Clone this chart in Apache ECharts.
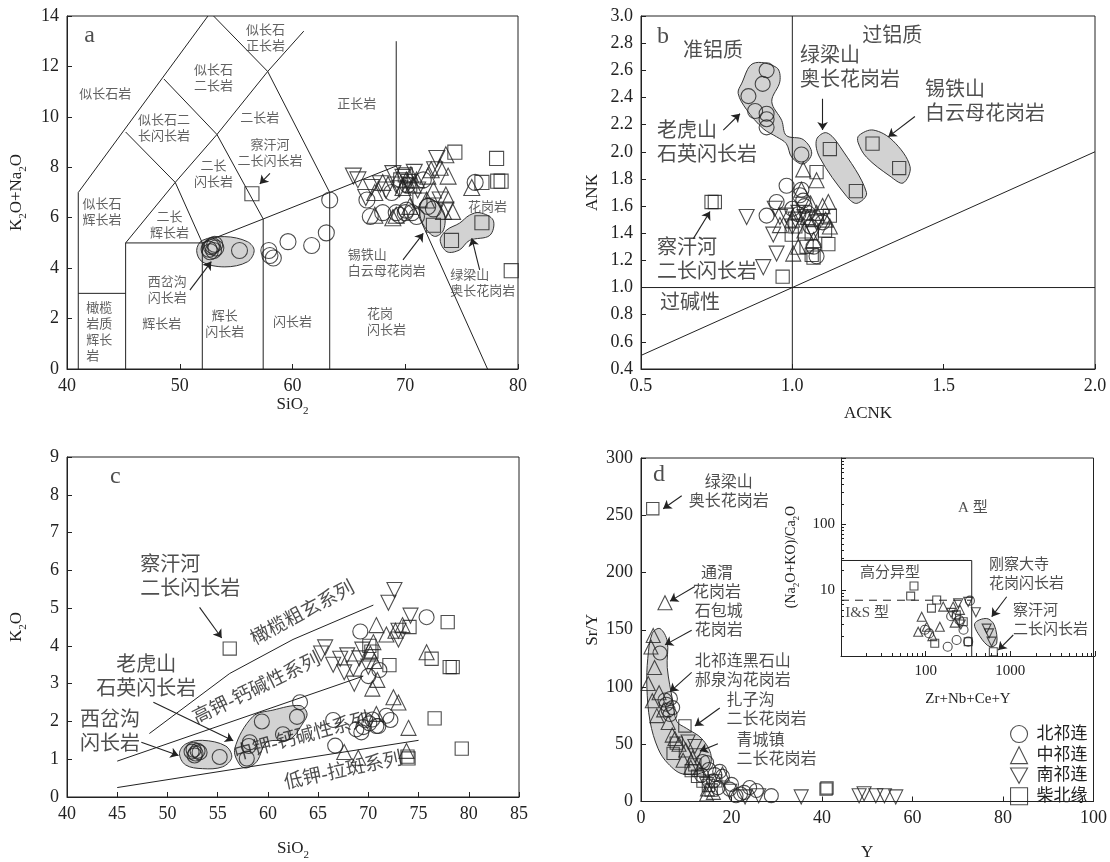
<!DOCTYPE html>
<html><head><meta charset="utf-8">
<script src="https://cdn.jsdelivr.net/npm/echarts@6/dist/echarts.min.js"></script>
<style>html,body{margin:0;padding:0;background:#fff}#c{width:1110px;height:862px}</style>
</head><body><div id="c"></div>
<script>
// ---------- Panel a: SiO2 vs K2O+Na2O ----------
const aNQ = [[52.6,4.75],[52.8,4.85],[53.0,4.7],[52.9,4.9],[53.2,4.8],[52.7,4.65],[53.1,4.95],[55.3,4.7],[57.9,4.7],[58.0,4.5],[58.3,4.4],[59.6,5.05],[61.7,4.9],[63.0,5.4],[63.3,6.7],[66.6,6.7],[66.9,6.05],[68.0,6.2],[69.2,6.2],[69.5,6.1],[70.0,6.2],[70.1,6.3],[70.6,6.2],[71.0,6.05],[72.0,6.45],[72.5,6.35],[71.6,7.5],[76.2,7.4],[68.8,7.0],[70.2,7.3]];
const aZQ = [[73.6,8.5],[73.1,8.0],[73.8,7.65],[72.0,7.65],[72.5,7.1],[73.6,6.9],[74.2,6.25],[73.4,6.25],[75.9,7.2],[68.0,7.4],[67.3,6.1],[69.2,6.1],[71.0,7.5],[70.4,6.45],[70.1,7.5],[70.7,7.3],[72.3,7.9],[67.3,7.0],[68.9,6.0],[71.9,6.7],[69.8,7.2],[70.5,7.7]];
const aNAN = [[65.4,7.65],[65.8,7.5],[67.8,7.35],[68.3,7.1],[69.5,7.15],[71.1,7.1],[72.8,8.35],[72.6,7.9],[73.1,6.7],[73.6,6.3],[68.9,7.75],[69.8,7.6],[70.3,7.4],[67.0,7.2],[66.5,6.8],[70.8,7.8],[69.2,7.3]];
const aCBY = [[56.4,6.95],[74.4,8.6],[78.1,8.35],[76.8,7.4],[78.2,7.45],[78.5,7.45],[79.4,3.9],[72.5,5.7],[74.1,5.1],[76.8,5.8],[70.0,7.7],[69.6,7.5],[70.4,7.3],[71.3,6.7]];
const aBoundaries = [
  [[41,0],[41,7],[52.5,14]],
  [[41,3],[45.2,3]],
  [[45.2,0],[45.2,5],[52,5]],
  [[52,0],[52,5],[57.4,5.95],[63.3,7.0],[69.2,8.05]],
  [[57.4,0],[57.4,5.95]],
  [[63.3,0],[63.3,7.0]],
  [[45.2,5],[49.6,7.4],[52,5]],
  [[45.2,9.4],[49.6,7.4]],
  [[48.6,11.5],[53.3,9.3],[57.4,5.95]],
  [[49.6,7.4],[53.3,9.3],[57.8,11.8],[61,13.4]],
  [[53,14],[57.8,11.8],[63.3,7.0]],
  [[69.2,8.05],[69.2,13.0]],
  [[69.2,8.05],[77.3,0]]
];
const aHulls = [
  [[51.5,4.7],[52,5.1],[54,5.25],[56,5.05],[56.6,4.7],[56,4.25],[54,4.05],[52,4.25]],
  [[71.3,6.57],[72.2,6.77],[73.4,6.24],[73.4,5.52],[72.6,5.26],[71.7,5.65],[71.3,6.1]],
  [[73.1,5.12],[73.7,5.52],[74.8,5.78],[75.7,6.1],[76.6,6.2],[77.8,5.9],[77.5,5.3],[75.7,5.1],[74.8,4.72],[73.7,4.65]]
];
const aArrows = [[[58.0,7.76],[57.1,7.34]],[[50.9,3.13],[52.8,4.26]],[[69.8,4.33],[71.6,5.38]],[[76.6,3.93],[75.9,5.19]]];
const aTexts = [
  ['似长石岩',43.4,10.9],['似长石\n正长岩',57.6,13.1],['似长石\n二长岩',53.0,11.5],['似长石二\n长闪长岩',48.6,9.55],
  ['二长岩',57.1,9.95],['察汗河\n二长闪长岩',58.0,8.55],['二长\n闪长岩',53.0,7.7],['似长石\n辉长岩',43.1,6.2],
  ['二长\n辉长岩',49.1,5.7],['西岔沟\n闪长岩',48.9,3.1],['橄榄\n岩质\n辉长\n岩',41.7,1.45,'left'],['辉长岩',48.4,1.75],
  ['辉长\n闪长岩',54.0,1.75],['闪长岩',60.0,1.85],['正长岩',65.7,10.5],['花岗岩',77.3,6.4],
  ['锡铁山\n白云母花岗岩',64.9,4.2,'left'],['绿梁山\n奥长花岗岩',74.0,3.4,'left'],['花岗\n闪长岩',66.6,1.86,'left']
];

// ---------- Panel b: ACNK vs ANK ----------
const bNQ = [[0.915,2.60],[0.902,2.50],[0.855,2.41],[0.877,2.30],[0.915,2.28],[0.915,2.24],[0.915,2.18],[1.03,1.98],[0.981,1.75],[1.025,1.68],[1.03,1.72],[1.036,1.64],[0.948,1.63],[0.915,1.53],[1.07,1.30],[1.08,1.23],[1.02,1.54],[1.10,1.48],[1.04,1.60],[1.05,1.55],[1.0,1.58],[1.06,1.45]];
const bZQ = [[1.036,1.87],[1.08,1.79],[1.03,1.72],[1.119,1.63],[1.10,1.60],[1.124,1.45],[0.959,1.46],[1.003,1.25],[1.07,1.35],[1.02,1.30],[1.05,1.52],[1.08,1.55],[1.0,1.50],[1.11,1.50],[1.06,1.62],[1.04,1.42]];
const bNAN = [[0.849,1.52],[0.942,1.58],[0.959,1.52],[0.937,1.39],[0.948,1.25],[0.904,1.15],[1.01,1.50],[1.08,1.48],[1.07,1.40],[1.04,1.52],[0.98,1.53],[1.0,1.45],[1.05,1.50],[1.1,1.52],[1.02,1.55]];
const bCBY = [[0.744,1.63],[0.733,1.63],[1.08,1.85],[1.124,1.53],[1.064,1.40],[0.998,1.39],[1.119,1.32],[1.064,1.24],[1.07,1.22],[0.968,1.08],[1.108,1.42],[1.047,1.30],[1.124,2.02],[1.21,1.71],[1.265,2.06],[1.353,1.88],[1.01,1.45]];
const bBoundaries = [[[1,0.4],[1,3]],[[0.5,1],[2,1]],[[0.5,0.5],[2,2]]];
const bHulls = [
  [[0.87,2.65],[0.948,2.62],[0.959,2.52],[0.932,2.37],[0.965,2.23],[0.98,2.12],[1.036,2.09],[1.064,1.99],[1.036,1.91],[0.998,1.96],[0.98,2.06],[0.948,2.11],[0.904,2.17],[0.849,2.31],[0.821,2.43],[0.832,2.50]],
  [[1.08,2.09],[1.113,2.14],[1.157,2.04],[1.245,1.70],[1.213,1.62],[1.18,1.67],[1.09,1.96]],
  [[1.22,2.12],[1.267,2.16],[1.333,2.08],[1.389,1.89],[1.366,1.77],[1.323,1.82],[1.245,1.96],[1.217,2.07]]
];
const bArrows = [[[1.10,2.39],[1.10,2.16]],[[1.405,2.26],[1.317,2.11]],[[0.772,2.16],[0.827,2.28]],[[0.673,1.36],[0.728,1.56]]];
const bTexts = [['准铝质',0.738,2.74],['过铝质',1.33,2.85],['绿梁山\n奥长花岗岩',1.025,2.61,'left'],['锡铁山\n白云母花岗岩',1.438,2.36,'left'],
  ['老虎山\n石英闪长岩',0.553,2.06,'left'],['察汗河\n二长闪长岩',0.553,1.195,'left'],['过碱性',0.563,0.88,'left']];

// ---------- Panel c: SiO2 vs K2O ----------
const cNQ = [[52.4,1.2],[52.6,1.25],[52.8,1.15],[53.0,1.22],[52.7,1.1],[53.2,1.18],[55.2,1.06],[58.2,1.45],[58.1,1.35],[57.9,1.02],[59.4,2.0],[61.5,1.66],[62.9,2.12],[63.2,2.51],[66.5,2.04],[66.7,1.36],[69.2,4.38],[68.8,1.79],[69.3,1.71],[69.7,2.03],[70.1,1.95],[70.8,1.88],[71.0,1.88],[71.8,2.15],[72.2,2.04],[75.8,4.76],[71.1,3.36],[70.0,3.2],[69.5,1.85],[70.4,2.05]];
const cZQ = [[70.8,4.55],[71.8,4.3],[70.5,4.1],[70.2,3.8],[70.6,3.6],[72.5,2.64],[73.0,2.5],[70.8,2.2],[67.6,1.19],[69.0,1.04],[74.0,1.83],[73.8,1.22],[75.8,3.83],[70.4,2.87],[73.4,4.55],[72.7,4.4],[70.9,3.1]];
const cNAN = [[65.7,3.96],[65.3,3.8],[67.2,3.66],[66.5,3.5],[67.6,3.3],[68.6,3.0],[67.9,3.75],[72.0,5.14],[72.6,5.48],[73.0,4.4],[73.0,4.17],[74.2,4.8],[69.1,3.67],[70.0,3.45],[68.5,3.4],[69.4,3.9]];
const cCBY = [[56.2,3.93],[74.1,4.5],[77.9,4.63],[76.3,3.66],[78.1,3.44],[78.4,3.44],[72.1,3.49],[76.6,2.08],[79.3,1.28],[74.0,1.02],[73.9,1.07],[70.3,3.85],[70.1,4.0]];
const cBoundaries = [[[48.2,1.68],[56.2,3.27],[62.5,4.17],[70.5,5.08]],[[45,0.95],[69.5,3.2]],[[45,0.25],[75,1.5]]];
const cHulls = [
  [[51.2,1.15],[51.8,1.4],[53.5,1.5],[55.8,1.35],[56.4,1.05],[55.5,0.8],[53.5,0.75],[51.8,0.85]],
  [[57.2,0.85],[56.7,1.28],[58.5,2.13],[60.5,2.30],[63.2,2.42],[63.9,2.21],[63.5,1.96],[62.2,1.53],[59.9,1.45],[58.9,0.94],[57.9,0.77]]
];
const cArrows = [[[53.2,5.02],[55.4,4.21]],[[48.6,2.51],[56.55,1.49]],[[47.4,1.45],[51.1,1.10]]];
const cTexts = [['察汗河\n二长闪长岩',47.3,5.8,'left'],['老虎山\n石英闪长岩',47.9,3.15],['西岔沟\n闪长岩',41.3,1.7,'left']];
const cSeriesTexts = [['橄榄粗玄系列',63.5,4.85,28],['高钾-钙碱性系列',58.9,2.85,26],['中钾-钙碱性系列',63.4,1.58,15],['低钾-拉斑系列',67.5,0.68,12]];

// ---------- Panel d: Y vs Sr/Y ----------
const dNQ = [[4.2,129.7],[5.3,88.6],[6.0,80],[6.4,76],[5.6,85],[7.0,82],[6.5,90],[17.4,26.3],[16.3,23.5],[16.0,18],[14.5,34],[19.6,10.8],[22,6.6],[24.0,12.2],[25.5,9.6],[28.8,5.1],[13.4,23],[22.8,8],[13.6,35],[18,22],[15,28],[20,15],[17,12],[21,5]];
const dZQ = [[5.3,173.6],[2.7,145],[2.2,135],[3.0,117],[1.6,103],[2.5,88],[5.0,80],[6,69],[6.9,58],[8.4,50],[9.9,45],[11.4,38],[12.9,28],[14.7,11],[9.3,36],[18,24],[4,95],[3.5,75],[7.5,55],[11,30],[16,8],[14.5,6.5]];
const dNAN = [[10.4,52],[11.9,48],[14.5,15],[19.6,9],[35.4,4],[48.2,5],[49.3,6.8],[51.9,5],[53.8,5],[56.3,4],[12,40],[26,5],[23,4]];
const dCBY = [[2.6,255.7],[9.7,66],[7.1,42],[7.8,51],[13.7,17.8],[14.9,14],[40.9,10.8],[41.1,11.8],[11.9,32],[11.1,27],[16.5,18],[12.5,22],[15.5,10]];
const dHulls = [[[4.2,151],[2.5,147],[1.5,125],[1.3,100],[2.0,70],[3.8,46],[6,33],[9.3,24],[14.5,27],[15.5,40],[13.4,55],[10,64],[7.9,70],[7.0,88],[5.8,117],[5.8,140]]];
const dArrows = [[[9.0,267],[4.9,255.7]],[[11.9,187.8],[6.4,175]],[[11.2,149.5],[5.3,136.8]],[[11.2,112.7],[6.4,95.8]],[[17.4,81.6],[11.9,66]],[[17.0,50.4],[13.0,44]]];
const dTexts = [['绿梁山\n奥长花岗岩',19.4,270],['通渭\n花岗岩',16.8,191],['石包城\n花岗岩',11.9,157,'left'],['北祁连黑石山\n郝泉沟花岗岩',11.9,114,'left'],
  ['扎子沟\n二长花岗岩',18.9,80,'left'],['青城镇\n二长花岗岩',21.1,45,'left']];

// ---------- Inset: Zr+Nb+Ce+Y vs (Na2O+KO)/Ca2O ----------
const iNQ = [[333,6.9],[182,1.38],[232,1.75],[98,2.5],[318,1.65],[110,2.2],[250,3.5],[200,4.0],[280,2.5]];
const iZQ = [[161,5.6],[89.8,3.94],[81.6,2.33],[147,2.78],[103,2.78],[211,5.6],[254,5.0],[120,2.0],[220,3.2]];
const iNAN = [[242,6.3],[392,4.6],[600,1.65],[525,2.6],[318,6.6],[560,2.2],[200,4.5],[260,3.0]];
const iCBY = [[72.8,11.5],[66.5,8.1],[135,7.05],[117,5.3],[318,1.65],[630,1.16],[128,1.56],[278,3.3],[230,4.2]];
const iBoundaries = [[[10,28],[350,28],[350,1]]];
const iDashed = [[[10,7],[350,7]]];
const iHulls = [[[380,3.1],[525,3.7],[645,2.95],[690,1.56],[575,1.38],[440,1.96]]];
const iArrows = [[[906,7.9],[603,3.94]],[[1083,2.08],[720,1.23]]];
const iTexts = [['A 型',361,174],['高分异型',37.9,18.1],['I&S 型',20.3,4.5],['刚察大寺\n花岗闪长岩',558,16.9,'left'],['察汗河\n二长闪长岩',1072,3.5,'left']];

const panelLetters = [['a',0,42.0,13.2],['b',1,0.573,2.85],['c',2,44.8,8.47],['d',3,4.0,285]];
const groups = ['北祁连','中祁连','南祁连','柴北缘'];

// ---------- build ----------
const FF = '"Liberation Serif","Times New Roman","Noto Sans CJK SC",serif';
const INK = '#222';
const CLEAR = 'rgba(255,255,255,0)';
const INV_TRI = 'path://M0,0 L20,0 L10,18 Z';
const grids = [
  {left:67, top:16, width:451, height:353},
  {left:641, top:16, width:454, height:353},
  {left:67, top:457, width:452, height:353},
  {left:641, top:458, width:454, height:353},
  {left:841, top:458, width:254, height:198}
].map((g,i)=>Object.assign(g,{show:i<4, borderColor:INK, borderWidth:1, containLabel:false}));

const rich = {t:{fontFamily:FF,fontSize:17,color:INK,lineHeight:24,verticalAlign:'middle'},
              s:{fontFamily:FF,fontSize:11,color:INK,lineHeight:24,verticalAlign:'bottom'}};
function va(gi,min,max,interval,fmt,name,gap){
  return {gridIndex:gi,type:'value',min,max,interval,
    axisLine:{show:true,lineStyle:{color:INK,width:1}},
    axisTick:{show:true,inside:true,length:5,lineStyle:{color:INK}},
    axisLabel:{fontFamily:FF,fontSize:18,color:INK,margin:8,formatter:fmt},
    splitLine:{show:false},
    name:name,nameLocation:'middle',nameGap:gap,
    nameTextStyle:{fontFamily:FF,fontSize:17,color:INK,rich:rich}};
}
const f1 = v=>v.toFixed(1);
const xAxis = [
  va(0,40,80,10,null,'{t|SiO}{s|2}',24),
  va(1,0.5,2.0,0.5,f1,'{t|ACNK}',33),
  va(2,40,85,5,null,'{t|SiO}{s|2}',40),
  va(3,0,100,20,null,'{t|Y}',39),
  {gridIndex:4,type:'log',logBase:10,min:10,max:10000,
    axisLine:{show:true,lineStyle:{color:INK}},
    axisTick:{show:true,inside:true,length:5,lineStyle:{color:INK}},
    minorTick:{show:true,splitNumber:9,length:3,lineStyle:{color:INK}},
    axisLabel:{fontFamily:FF,fontSize:15,color:INK,margin:8,formatter:v=>(Math.abs(v-100)<1e-6||Math.abs(v-1000)<1e-6)?String(Math.round(v)):''},
    splitLine:{show:false},name:'Zr+Nb+Ce+Y',nameLocation:'middle',nameGap:36,
    nameTextStyle:{fontFamily:FF,fontSize:15,color:INK}}
];
const yAxis = [
  va(0,0,14,2,null,'{t|K}{s|2}{t|O+Na}{s|2}{t|O}',38),
  va(1,0.4,3.0,0.2,f1,'{t|ANK}',36),
  va(2,0,9,1,null,'{t|K}{s|2}{t|O}',38),
  va(3,0,300,50,null,'{t|Sr/Y}',36),
  {gridIndex:4,type:'log',logBase:10,min:1,max:1000,
    axisLine:{show:true,lineStyle:{color:INK}},
    axisTick:{show:true,inside:true,length:5,lineStyle:{color:INK}},
    minorTick:{show:true,splitNumber:9,length:3,lineStyle:{color:INK}},
    axisLabel:{fontFamily:FF,fontSize:15,color:INK,margin:6,formatter:v=>(Math.abs(v-10)<1e-6||Math.abs(v-100)<1e-6)?String(Math.round(v)):''},
    splitLine:{show:false},name:'{t|(Na}{s|2}{t|O+KO)/Ca}{s|2}{t|O}',nameLocation:'middle',nameGap:40,
    nameTextStyle:{fontFamily:FF,fontSize:14,color:INK,rich:{t:{fontFamily:FF,fontSize:14,color:INK,lineHeight:20,verticalAlign:'middle'},s:{fontFamily:FF,fontSize:9,color:INK,lineHeight:20,verticalAlign:'bottom'}}}}
];

const series = [];
function lines(gi,polys,extra){
  series.push(Object.assign({type:'lines',coordinateSystem:'cartesian2d',xAxisIndex:gi,yAxisIndex:gi,polyline:true,
    data:polys.map(c=>({coords:c})),lineStyle:{color:INK,width:1,opacity:1},symbol:'none',silent:true,z:2,animation:false},extra||{}));
}
function arrows(gi,arr){
  series.push({type:'lines',coordinateSystem:'cartesian2d',xAxisIndex:gi,yAxisIndex:gi,
    data:arr.map(c=>({coords:c})),symbol:['none','arrow'],symbolSize:8,
    lineStyle:{color:INK,width:1.1,opacity:1},silent:true,z:6,animation:false});
}
function hulls(gi,arr){
  arr.forEach(pts=>series.push({type:'custom',coordinateSystem:'cartesian2d',xAxisIndex:gi,yAxisIndex:gi,data:[0],silent:true,z:1,
    renderItem:(p,api)=>({type:'polygon',shape:{points:pts.map(q=>api.coord(q)),smooth:0.35},
      style:{fill:'#d2d2d2',stroke:'#333',lineWidth:1}})}));
}
function scat(gi,sets,size){
  const sym = ['circle','triangle',INV_TRI,'rect'];
  sets.forEach((d,k)=>series.push({type:'scatter',name:groups[k],xAxisIndex:gi,yAxisIndex:gi,data:d,
    symbol:sym[k],symbolKeepAspect:false,symbolSize:(k===3?size*0.88:size),
    itemStyle:{color:CLEAR,borderColor:INK,borderWidth:1.1},z:5,silent:true,animation:false}));
}
function textSeries(gi,data,lbl,z){
  series.push({type:'scatter',xAxisIndex:gi,yAxisIndex:gi,symbol:'circle',symbolSize:1,
    itemStyle:{color:CLEAR,borderWidth:0},silent:true,z:z||7,animation:false,data:data,
    label:Object.assign({show:true,position:'inside',formatter:p=>p.name,fontFamily:FF,color:INK},lbl)});
}
function texts(gi,arr,size,lh,color){
  textSeries(gi,arr.map(t=>({name:t[0],value:[t[1],t[2]],label:{align:t[3]||'center'}})),{fontSize:size,lineHeight:lh,color:color||INK});
}

// panel a
lines(0,aBoundaries); hulls(0,aHulls); scat(0,[aNQ,aZQ,aNAN,aCBY],16); arrows(0,aArrows); texts(0,aTexts,13,16,'#3a3a3a');
// panel b
lines(1,bBoundaries); hulls(1,bHulls); scat(1,[bNQ,bZQ,bNAN,bCBY],15); arrows(1,bArrows); texts(1,bTexts,20,24);
// panel c
lines(2,cBoundaries); hulls(2,cHulls); scat(2,[cNQ,cZQ,cNAN,cCBY],15); arrows(2,cArrows); texts(2,cTexts,20,24);
textSeries(2,cSeriesTexts.map(t=>({name:t[0],value:[t[1],t[2]],label:{rotate:t[3]}})),{fontSize:19},4);
// panel d
hulls(3,dHulls); scat(3,[dNQ,dZQ,dNAN,dCBY],14); arrows(3,dArrows); texts(3,dTexts,16,19);
// inset
lines(4,iBoundaries); lines(4,iDashed,{lineStyle:{color:INK,width:1,type:[8,6],opacity:1}});
hulls(4,iHulls); scat(4,[iNQ,iZQ,iNAN,iCBY],9); arrows(4,iArrows); texts(4,iTexts,15,19);
// panel letters
panelLetters.forEach(l=>textSeries(l[1],[{name:l[0],value:[l[2],l[3]]}],{fontSize:24}));

const chart = echarts.init(document.getElementById('c'),null,{renderer:'canvas'});
chart.setOption({
  animation:false,backgroundColor:'#fff',
  grid:grids,xAxis:xAxis,yAxis:yAxis,series:series,
  legend:{show:true,orient:'vertical',left:1005,top:720,itemWidth:17,itemHeight:17,itemGap:3,
    selectedMode:false,
    data:groups,textStyle:{fontFamily:FF,fontSize:17,color:INK,padding:[0,0,0,4]},
    itemStyle:{color:CLEAR,borderColor:INK,borderWidth:1.1}}
});
</script></body></html>
